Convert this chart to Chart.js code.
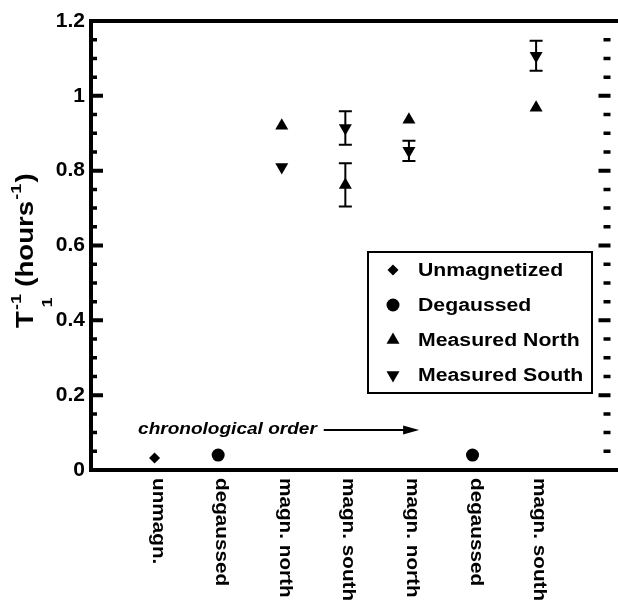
<!DOCTYPE html>
<html lang="en">
<head>
    <meta charset="utf-8">
    <title>T1 relaxation rates</title>
    <script src="https://cdn.jsdelivr.net/npm/chart.js"></script>
    <style>
        body { margin: 0; background: #fff; }
        #wrap { width: 618px; height: 600px; position: relative; }
    </style>
</head>
<body>
<div id="wrap"><canvas id="relaxChart"></canvas></div>

<script>
    // sample sequence along the x axis (chronological)
    const categories = ['unmagn.', 'degaussed', 'magn. north', 'magn. south', 'magn. north', 'degaussed', 'magn. south']
    const seriesNames = ['Unmagnetized', 'Degaussed', 'Measured North', 'Measured South']

    // values, x = position in the sequence
    const unmagX = [1]
    const unmagY = [0.032]
    const degaussX = [2, 6]
    const degaussY = [0.04, 0.04]
    const northX = [3, 4, 5, 7]
    const northY = [0.92, 0.762, 0.936, 0.968]
    const northErr = [0, 0.058, 0, 0]
    const southX = [3, 4, 5, 7]
    const southY = [0.81, 0.914, 0.853, 1.107]
    const southErr = [0, 0.045, 0.027, 0.04]

    const yMin = 0, yMax = 1.2, yStep = 0.2, yMinorStep = 0.05
    const FONT = "'Liberation Sans', Arial, Helvetica, sans-serif"

    function toPoints(xs, ys, errs) {
        return xs.map((x, i) => ({x: x, y: ys[i], err: errs ? errs[i] : 0}))
    }

    function drawMarker(ctx, ds, x, y) {
        if (Chart.helpers && Chart.helpers.drawPoint) {
            Chart.helpers.drawPoint(ctx, {
                pointStyle: ds.pointStyle, radius: ds.pointRadius,
                rotation: ds.rotation || 0, borderWidth: 0
            }, x, y)
        } else {
            ctx.beginPath()
            ctx.arc(x, y, ds.pointRadius, 0, Math.PI * 2)
            ctx.fill()
        }
    }

    function wideText(ctx, text, x, y, sx) {
        ctx.save()
        ctx.translate(x, y)
        ctx.scale(sx, 1)
        ctx.fillText(text, 0, 0)
        ctx.restore()
    }

    const decorations = {
        id: 'decorations',
        afterDatasetsDraw(chart) {
            const ctx = chart.ctx
            const area = chart.chartArea
            const xs = chart.scales.x
            const ys = chart.scales.y
            ctx.save()
            ctx.fillStyle = '#000'
            ctx.strokeStyle = '#000'

            // error bars
            ctx.lineWidth = 2
            chart.data.datasets.forEach(ds => {
                ds.data.forEach(p => {
                    if (!p.err) return
                    const px = xs.getPixelForValue(p.x)
                    const top = ys.getPixelForValue(p.y + p.err)
                    const bot = ys.getPixelForValue(p.y - p.err)
                    ctx.beginPath()
                    ctx.moveTo(px, top); ctx.lineTo(px, bot)
                    ctx.moveTo(px - 6.5, top); ctx.lineTo(px + 6.5, top)
                    ctx.moveTo(px - 6.5, bot); ctx.lineTo(px + 6.5, bot)
                    ctx.stroke()
                })
            })

            // frame: left, bottom, top (right edge falls outside the picture)
            ctx.lineWidth = 4
            ctx.beginPath()
            ctx.moveTo(area.left, area.top); ctx.lineTo(area.left, area.bottom + 2)
            ctx.moveTo(area.left - 2, area.bottom); ctx.lineTo(chart.width, area.bottom)
            ctx.moveTo(area.left - 2, area.top); ctx.lineTo(chart.width, area.top)
            ctx.stroke()

            // inward ticks on both sides
            for (let v = yMin; v <= yMax + 1e-9; v += yMinorStep) {
                const py = ys.getPixelForValue(v)
                const major = Math.abs(v / yStep - Math.round(v / yStep)) < 1e-6
                ctx.lineWidth = major ? 4 : 3.5
                ctx.beginPath()
                ctx.moveTo(area.left, py); ctx.lineTo(area.left + (major ? 12 : 6), py)
                ctx.moveTo(area.right, py); ctx.lineTo(area.right - (major ? 12 : 7), py)
                ctx.stroke()
            }

            // category labels, reading downwards
            ctx.font = 'bold 19px ' + FONT
            ctx.textAlign = 'left'
            ctx.textBaseline = 'alphabetic'
            categories.forEach((c, i) => {
                const px = xs.getPixelForValue(i + 1)
                ctx.save()
                ctx.translate(px - 2, area.bottom + 8)
                ctx.rotate(Math.PI / 2)
                ctx.scale(1.09, 1)
                ctx.fillText(c, 0, 0)
                ctx.restore()
            })

            // chronological order note with arrow
            const ny = ys.getPixelForValue(0.107)
            ctx.font = 'italic bold 16px ' + FONT
            ctx.textBaseline = 'middle'
            wideText(ctx, 'chronological order', xs.getPixelForValue(0.74), ny, 1.19)
            const a0 = xs.getPixelForValue(3.66), a1 = xs.getPixelForValue(5.16)
            ctx.lineWidth = 2
            ctx.beginPath()
            ctx.moveTo(a0, ny); ctx.lineTo(a1 - 10, ny)
            ctx.stroke()
            ctx.beginPath()
            ctx.moveTo(a1, ny); ctx.lineTo(a1 - 16, ny - 4.5); ctx.lineTo(a1 - 16, ny + 4.5)
            ctx.closePath()
            ctx.fill()

            // y axis title: T_1^-1 (hours^-1)
            ctx.save()
            ctx.translate(33, 328)
            ctx.rotate(-Math.PI / 2)
            ctx.scale(1.2, 1)
            ctx.textBaseline = 'alphabetic'
            const big = 'bold 23px ' + FONT, small = 'bold 15px ' + FONT
            let u = 0
            ctx.font = big; ctx.fillText('T', u, 0); u += ctx.measureText('T').width + 1
            ctx.font = small
            ctx.fillText('-1', u, -12)
            ctx.fillText('1', u + 2, 19)
            u += ctx.measureText('-1').width + 6
            ctx.font = big; ctx.fillText('(hours', u, 0); u += ctx.measureText('(hours').width + 1
            ctx.font = small; ctx.fillText('-1', u, -12); u += ctx.measureText('-1').width + 1
            ctx.font = big; ctx.fillText(')', u, 0)
            ctx.restore()

            // legend box
            const lx = 368, ly = 252, lw = 224, lh = 141
            ctx.lineWidth = 2
            ctx.strokeRect(lx, ly, lw, lh)
            ctx.font = 'bold 18px ' + FONT
            ctx.textBaseline = 'middle'
            chart.data.datasets.forEach((ds, i) => {
                const iy = ly + 18 + i * 35
                drawMarker(ctx, ds, lx + 25, iy)
                wideText(ctx, ds.label, lx + 50, iy + 1, 1.18)
            })
            ctx.restore()
        }
    }

    const relaxChart = new Chart(document.getElementById('relaxChart'), {
        type: 'scatter',
        data: {
            datasets: [{
                label: seriesNames[0],
                data: toPoints(unmagX, unmagY),
                pointStyle: 'rectRot',
                pointRadius: 5.5,
                backgroundColor: '#000',
                borderWidth: 0
            }, {
                label: seriesNames[1],
                data: toPoints(degaussX, degaussY),
                pointStyle: 'circle',
                pointRadius: 6.5,
                backgroundColor: '#000',
                borderWidth: 0
            }, {
                label: seriesNames[2],
                data: toPoints(northX, northY, northErr),
                pointStyle: 'triangle',
                pointRadius: 7.5,
                backgroundColor: '#000',
                borderWidth: 0
            }, {
                label: seriesNames[3],
                data: toPoints(southX, southY, southErr),
                pointStyle: 'triangle',
                rotation: 180,
                pointRadius: 7.5,
                backgroundColor: '#000',
                borderWidth: 0
            }]
        },
        options: {
            responsive: true,
            maintainAspectRatio: false,
            animation: false,
            layout: {padding: {top: 21, left: 0, right: 0, bottom: 0}},
            plugins: {
                legend: {display: false},
                tooltip: {enabled: false}
            },
            elements: {point: {hoverRadius: 7.5}},
            scales: {
                x: {
                    type: 'linear',
                    min: 0,
                    max: 8.17,
                    grid: {display: false, drawTicks: false},
                    border: {display: false},
                    ticks: {display: false},
                    afterFit: s => { s.height = 130 }
                },
                y: {
                    min: yMin,
                    max: yMax,
                    grid: {display: false, drawTicks: false},
                    border: {display: false},
                    ticks: {
                        stepSize: yStep,
                        padding: 6,
                        color: '#000',
                        font: {family: FONT, size: 21, weight: 'bold'},
                        callback: v => String(Number(v.toFixed(2)))
                    },
                    afterFit: s => { s.width = 91 }
                }
            }
        },
        plugins: [decorations]
    })
</script>
</body>
</html>
